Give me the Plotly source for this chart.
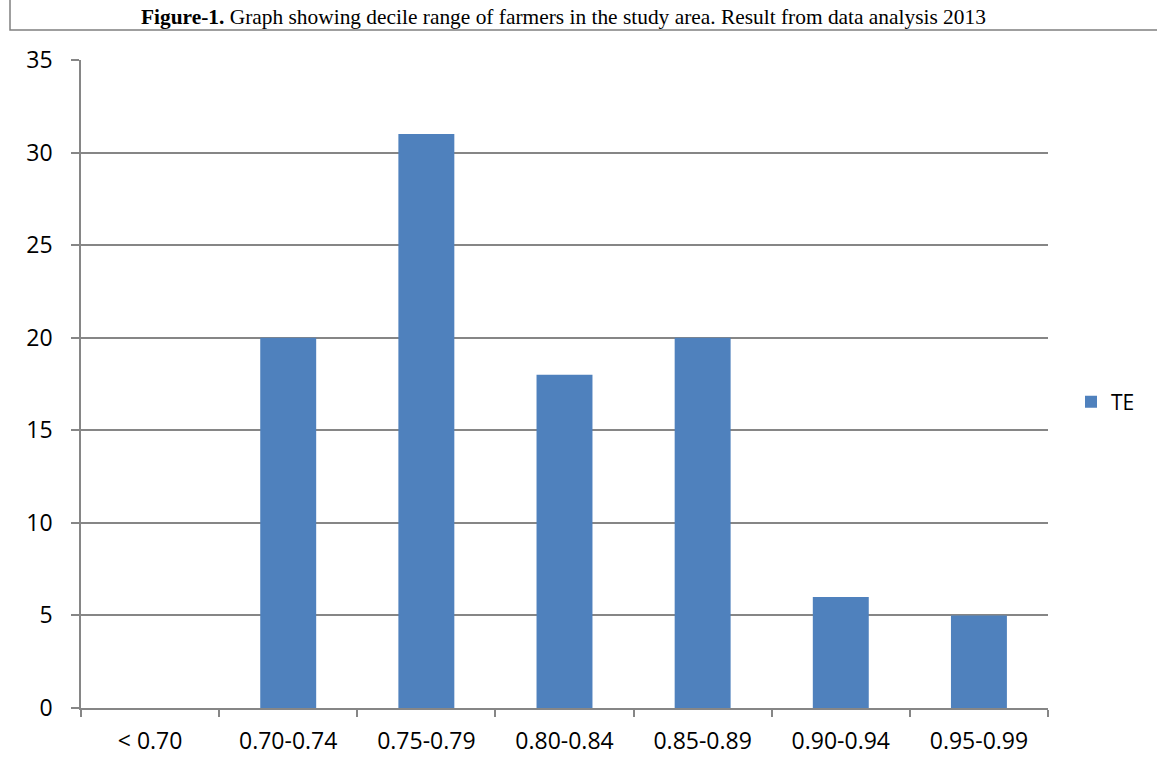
import plotly.graph_objects as go

categories = ["< 0.70", "0.70-0.74", "0.75-0.79", "0.80-0.84", "0.85-0.89", "0.90-0.94", "0.95-0.99"]
te_values = [0, 20, 31, 18, 20, 6, 5]
y_ticks = [0, 5, 10, 15, 20, 25, 30, 35]

W, H = 1157, 771
L, R, T, B = 81, 109, 60, 63
pw, ph = W - L - R, H - T - B

def px_x(p):
    return (p - L) / pw

def px_y(p):
    return (H - B - p) / ph

GRID = "#868686"
BAR = "#4F81BD"
FONT = "Open Sans, Liberation Sans, sans-serif"

fig = go.Figure()
fig.add_trace(go.Bar(
    x=categories, y=te_values, name="TE",
    marker=dict(color=BAR, line=dict(width=0)),
))

fig.update_layout(
    width=W, height=H,
    margin=dict(l=L, r=R, t=T, b=B),
    paper_bgcolor="white", plot_bgcolor="white",
    bargap=0.595,
    showlegend=True,
    legend=dict(x=px_x(1071), y=px_y(402), xanchor="left", yanchor="middle",
                font=dict(family=FONT, size=21, color="black"),
                bgcolor="rgba(0,0,0,0)", itemwidth=30),
    font=dict(family=FONT, size=23, color="black"),
    xaxis=dict(
        type="category", tickson="boundaries", ticks="outside", ticklen=7,
        tickcolor=GRID, tickwidth=1.5, showline=True, linecolor=GRID, linewidth=1.5,
        showgrid=False, tickfont=dict(family=FONT, size=23, color="black"),
        ticklabelstandoff=12,
    ),
    yaxis=dict(
        range=[0, 35], tickvals=y_ticks, ticks="outside", ticklen=8,
        tickcolor=GRID, tickwidth=1.5, showline=True, linecolor=GRID, linewidth=1.5,
        showgrid=True, gridcolor=GRID, gridwidth=1.5, zeroline=False,
        tickfont=dict(family=FONT, size=23, color="black"),
        ticklabelstandoff=14,
    ),
)

# outer chart frame
fig.add_shape(type="path", xref="paper", yref="paper",
              path=f"M {px_x(10)} {px_y(-20)} L {px_x(10)} {px_y(30)} L {px_x(1200)} {px_y(30)}",
              line=dict(color="#808080", width=1.5))

fig.add_annotation(
    xref="paper", yref="paper", x=px_x(563), y=px_y(17), xanchor="center", yanchor="middle",
    showarrow=False,
    text="<b>Figure-1.</b> Graph showing decile range of farmers in the study area. Result from data analysis 2013",
    font=dict(family="Liberation Serif, Times New Roman, serif", size=21.4, color="black"),
)

fig.write_html("out.html")
